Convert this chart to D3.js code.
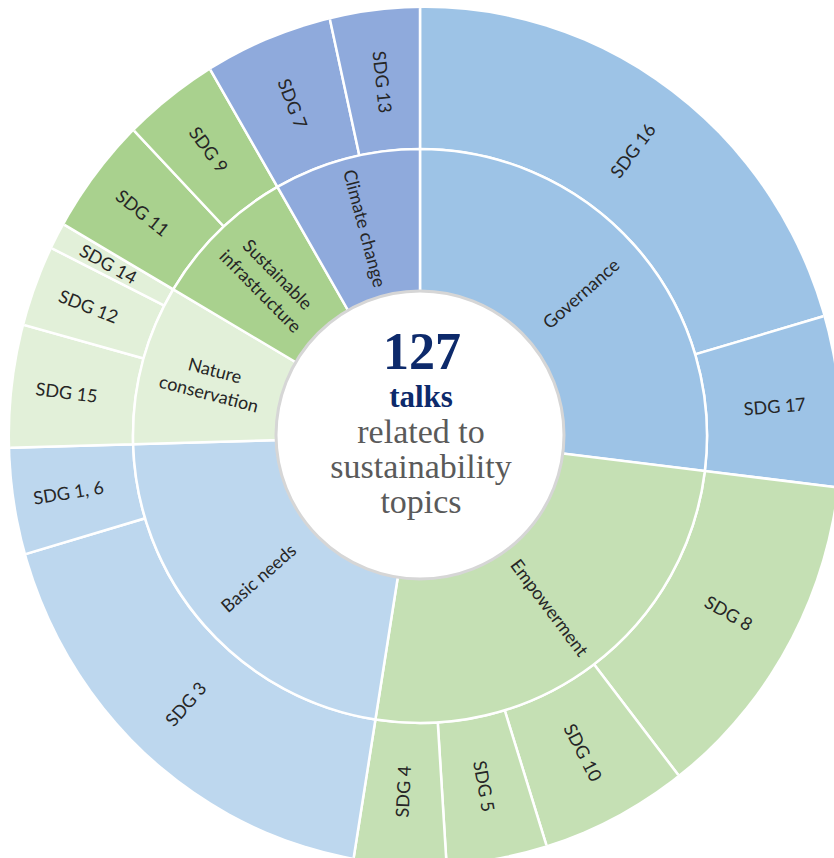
<!DOCTYPE html>
<html>
<head>
<meta charset="utf-8">
<script src="https://cdn.jsdelivr.net/npm/d3@7"></script>
<style>
  html, body { margin: 0; padding: 0; background: #ffffff; }
  svg { display: block; }
</style>
</head>
<body>
<svg id="chart" width="834" height="858"></svg>
<script>
// Sustainability topics of the talks: topic groups (inner ring) and SDGs (outer ring)
const groups = ["Governance", "Empowerment", "Basic needs", "Nature conservation", "Sustainable infrastructure", "Climate change"];
const topics = ["SDG 16", "SDG 17", "SDG 8", "SDG 10", "SDG 5", "SDG 4", "SDG 3", "SDG 1, 6", "SDG 15", "SDG 12", "SDG 14", "SDG 11", "SDG 9", "SDG 7", "SDG 13"];
const topicGroup = ["Governance", "Governance", "Empowerment", "Empowerment", "Empowerment", "Empowerment", "Basic needs", "Basic needs", "Nature conservation", "Nature conservation", "Nature conservation", "Sustainable infrastructure", "Sustainable infrastructure", "Climate change", "Climate change"];
const talks = [25.9, 8.3, 16.1, 7.1, 4.8, 4.4, 22.7, 5.3, 6.1, 4.0, 1.3, 5.7, 4.7, 6.2, 4.3];
const centerLines = ["related to", "sustainability", "topics"];

const groupPalette = ["#9DC3E6", "#C5E0B4", "#BDD7EE", "#E2F0D9", "#A9D18E", "#8FAADC"];
const color = d3.scaleOrdinal().domain(groups).range(groupPalette);

const svg = d3.select("#chart");
const W = 834, H = 858;
const cx = 420, cy = 436;
const rHole = 140, rInner = 287, rOuter = 440;

svg.append("rect").attr("width", W).attr("height", H).attr("fill", "#ffffff");

// the outer ring ends on a slightly oval rim
const defs = svg.append("defs");
defs.append("clipPath").attr("id", "rim")
  .append("ellipse")
  .attr("cx", 425).attr("cy", 436).attr("rx", 415).attr("ry", 428);

const tree = {
  name: "all",
  children: groups.map(g => ({
    name: g,
    children: topics
      .map((t, i) => ({ name: t, value: talks[i], group: topicGroup[i] }))
      .filter(t => t.group === g)
  }))
};

const root = d3.hierarchy(tree).sum(d => d.value || 0);
d3.partition().size([2 * Math.PI, 1])(root);

const arc = d3.arc()
  .startAngle(d => d.x0)
  .endAngle(d => d.x1)
  .innerRadius(d => d.depth === 1 ? rHole : rInner)
  .outerRadius(d => d.depth === 1 ? rInner : rOuter);

const groupOf = d => d.depth === 1 ? d.data.name : d.parent.data.name;

const g = svg.append("g").attr("transform", `translate(${cx},${cy})`);

const outer = g.append("g").attr("clip-path", "url(#rim)")
  .attr("transform", `translate(${-cx},${-cy})`)
  .append("g").attr("transform", `translate(${cx},${cy})`);

outer.selectAll("path")
  .data(root.descendants().filter(d => d.depth === 2))
  .join("path")
  .attr("d", arc)
  .attr("fill", d => color(groupOf(d)))
  .attr("stroke", "#ffffff")
  .attr("stroke-width", 2.5);

g.append("g").selectAll("path")
  .data(root.descendants().filter(d => d.depth === 1))
  .join("path")
  .attr("d", arc)
  .attr("fill", d => color(groupOf(d)))
  .attr("stroke", "#ffffff")
  .attr("stroke-width", 2.5);

// radial labels, flipped so they never read upside down
const wrap = {
  "Nature conservation": ["Nature", "conservation"],
  "Sustainable infrastructure": ["Sustainable", "infrastructure"]
};
const labelFont = 18, lineGap = 24;

const labels = g.append("g")
  .attr("font-family", "Lato, 'Open Sans', sans-serif")
  .attr("font-size", labelFont)
  .attr("fill", "#262626")
  .attr("text-anchor", "middle");

root.descendants().filter(d => d.depth > 0).forEach(d => {
  const a = (d.x0 + d.x1) / 2;
  const r = d.depth === 1 ? (rHole + 3 + rInner) / 2 : (rInner + 425) / 2;
  const x = r * Math.sin(a), y = -r * Math.cos(a);
  let rot = a * 180 / Math.PI - 90;
  if (rot > 90) rot -= 180;
  const lines = wrap[d.data.name] || [d.data.name];
  const t = labels.append("text")
    .attr("transform", `translate(${x},${y}) rotate(${rot})`);
  lines.forEach((ln, i) => {
    t.append("tspan")
      .attr("x", 0)
      .attr("y", (i - (lines.length - 1) / 2) * lineGap)
      .attr("dy", "0.36em")
      .text(ln);
  });
});

// centre disc with the total count
svg.append("circle")
  .attr("cx", 420).attr("cy", 435).attr("r", 144)
  .attr("fill", "#ffffff")
  .attr("stroke", "#d6d6d6")
  .attr("stroke-width", 3);

const total = Math.round(d3.sum(talks));
const center = svg.append("g")
  .attr("font-family", "'Liberation Serif', 'DejaVu Serif', serif")
  .attr("text-anchor", "middle");

center.append("text")
  .attr("x", 422).attr("y", 369)
  .attr("font-size", 52).attr("font-weight", "bold")
  .attr("fill", "#0D2A6B")
  .text(total);

center.append("text")
  .attr("x", 421).attr("y", 407)
  .attr("font-size", 31).attr("font-weight", "bold")
  .attr("fill", "#0D2A6B")
  .text("talks");

centerLines.forEach((ln, i) => {
  center.append("text")
    .attr("x", 421).attr("y", 443 + i * 35)
    .attr("font-size", 34)
    .attr("fill", "#5a5a5a")
    .text(ln);
});
</script>
</body>
</html>
